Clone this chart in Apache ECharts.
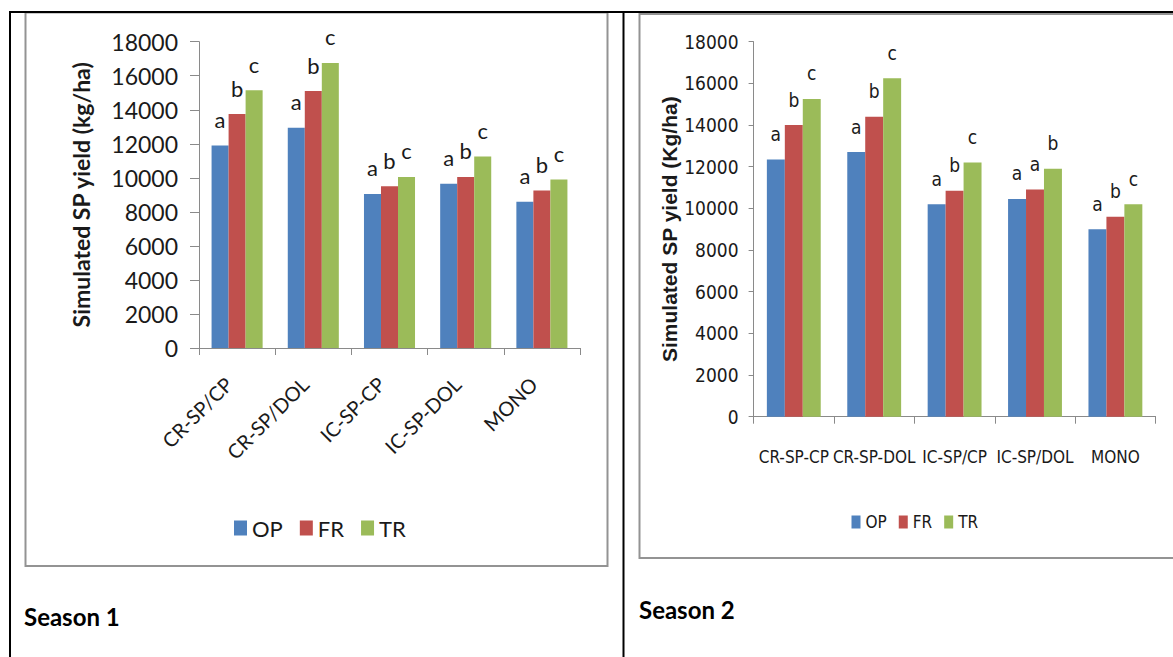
<!DOCTYPE html>
<html>
<head>
<meta charset="utf-8">
<script src="https://cdn.jsdelivr.net/npm/echarts@6/dist/echarts.min.js"></script>
<style>
  html, body { margin: 0; padding: 0; background: #fff; }
  #chart { width: 1173px; height: 657px; }
</style>
</head>
<body>
<div id="chart"></div>
<script>
// Season 1: simulated sweet potato yield (kg/ha) per cropping system
const categoriesS1 = ['CR-SP/CP', 'CR-SP/DOL', 'IC-SP-CP', 'IC-SP-DOL', 'MONO'];
const opS1 = [11900, 12950, 9050, 9650, 8600];
const frS1 = [13750, 15100, 9500, 10050, 9250];
const trS1 = [15150, 16750, 10050, 11250, 9900];
const opLettersS1 = ['a', 'a', 'a', 'a', 'a'];
const frLettersS1 = ['b', 'b', 'b', 'b', 'b'];
const trLettersS1 = ['c', 'c', 'c', 'c', 'c'];

// Season 2
const categoriesS2 = ['CR-SP-CP', 'CR-SP-DOL', 'IC-SP/CP', 'IC-SP/DOL', 'MONO'];
const opS2 = [12350, 12700, 10200, 10450, 9000];
const frS2 = [14000, 14400, 10850, 10900, 9600];
const trS2 = [15250, 16250, 12200, 11900, 10200];
const opLettersS2 = ['a', 'a', 'a', 'a', 'a'];
const frLettersS2 = ['b', 'b', 'b', 'a', 'b'];
const trLettersS2 = ['c', 'c', 'c', 'b', 'c'];

const seriesNames = ['OP', 'FR', 'TR'];
const yMin = 0, yMax = 18000, yStep = 2000;
const titleS1 = 'Simulated SP yield (kg/ha)';
const titleS2 = 'Simulated SP yield (Kg/ha)';
const panelLabels = ['Season 1', 'Season 2'];

const COLORS = ['#4F81BD', '#C0504D', '#9BBB59'];
const AXIS_GREY = '#8a8a8a';
const TEXT = '#1a1a1a';
const FONT1 = 'Lato, "Open Sans", sans-serif';
const FONT2 = '"Liberation Sans Narrow", "DejaVu Sans Condensed", "Liberation Sans", sans-serif';

function bars(name, values, letters, idx, color, font, size, dist) {
  return {
    name: name,
    type: 'bar',
    xAxisIndex: idx,
    yAxisIndex: idx,
    data: values,
    barGap: '0%',
    barCategoryGap: '33%',
    itemStyle: { color: color },
    label: {
      show: true,
      position: 'top',
      distance: dist,
      color: TEXT,
      fontFamily: font,
      fontSize: size,
      formatter: p => letters[p.dataIndex]
    },
    emphasis: { disabled: true }
  };
}

function valueAxis(idx, name, font, size, nameFont, nameSize, nameGap, labelMargin, tickLen) {
  return {
    type: 'value',
    gridIndex: idx,
    min: yMin, max: yMax, interval: yStep,
    name: name,
    nameLocation: 'middle',
    nameGap: nameGap,
    nameTextStyle: { fontFamily: nameFont, fontSize: nameSize, fontWeight: 'bold', color: TEXT },
    axisLine: { show: true, lineStyle: { color: AXIS_GREY, width: 1 } },
    axisTick: { show: true, length: tickLen, lineStyle: { color: AXIS_GREY } },
    splitLine: { show: false },
    axisLabel: {
      fontFamily: font, fontSize: size, color: TEXT, margin: labelMargin,
      formatter: v => String(v)
    }
  };
}

function categoryAxis(idx, cats, font, size, rotate, margin, padding) {
  return {
    type: 'category',
    gridIndex: idx,
    data: cats,
    axisLine: { lineStyle: { color: AXIS_GREY, width: 1 } },
    axisTick: { show: true, length: 7, lineStyle: { color: AXIS_GREY } },
    axisLabel: {
      fontFamily: font, fontSize: size, color: TEXT, rotate: rotate,
      margin: margin, interval: 0, padding: padding
    }
  };
}

const chart = echarts.init(document.getElementById('chart'), null, { renderer: 'svg' });

chart.setOption({
  backgroundColor: '#fff',
  animation: false,
  color: COLORS,
  grid: [
    { left: 199, top: 41.7, width: 381, height: 306.3 },
    { left: 753.6, top: 41.7, width: 402, height: 375 }
  ],
  xAxis: [
    // slanted labels end just left of the category centre
    categoryAxis(0, categoriesS1, FONT1, 20, 45, 24, [0, 12, 0, 0]),
    categoryAxis(1, categoriesS2, FONT2, 17, 0, 32, 0)
  ],
  yAxis: [
    valueAxis(0, titleS1, FONT1, 23, FONT1, 23, 107, 21, 9),
    valueAxis(1, titleS2, FONT2, 19, '"Liberation Sans", sans-serif', 21, 64, 15, 5)
  ],
  legend: [
    {
      data: seriesNames, left: 229, top: 512,
      icon: 'rect', itemWidth: 13, itemHeight: 15, itemGap: 17,
      textStyle: { fontFamily: FONT1, fontSize: 22, color: TEXT },
      selectedMode: false
    },
    {
      data: seriesNames, left: 846.5, top: 508.5,
      icon: 'rect', itemWidth: 9, itemHeight: 13, itemGap: 12,
      textStyle: { fontFamily: FONT2, fontSize: 17, color: TEXT },
      selectedMode: false
    }
  ],
  series: [
    bars('OP', opS1, opLettersS1, 0, COLORS[0], FONT1, 22, 15),
    bars('FR', frS1, frLettersS1, 0, COLORS[1], FONT1, 22, 15),
    bars('TR', trS1, trLettersS1, 0, COLORS[2], FONT1, 22, 15),
    bars('OP', opS2, opLettersS2, 1, COLORS[0], FONT2, 19, 16),
    bars('FR', frS2, frLettersS2, 1, COLORS[1], FONT2, 19, 16),
    bars('TR', trS2, trLettersS2, 1, COLORS[2], FONT2, 19, 16)
  ],
  graphic: [
    // chart frames
    { type: 'rect', shape: { x: 25.5, y: 12.5, width: 582, height: 553.5 },
      style: { fill: 'none', stroke: '#939393', lineWidth: 2 }, silent: true },
    { type: 'rect', shape: { x: 639.5, y: 14, width: 560, height: 544 },
      style: { fill: 'none', stroke: '#939393', lineWidth: 2 }, silent: true },
    // table rules
    { type: 'line', shape: { x1: 9, y1: 12, x2: 1173, y2: 12 },
      style: { stroke: '#000', lineWidth: 2 }, silent: true },
    { type: 'line', shape: { x1: 10, y1: 11, x2: 10, y2: 657 },
      style: { stroke: '#000', lineWidth: 2 }, silent: true },
    { type: 'line', shape: { x1: 623.5, y1: 11, x2: 623.5, y2: 657 },
      style: { stroke: '#000', lineWidth: 2 }, silent: true },
    // panel captions
    { type: 'text', left: 24, top: 604,
      style: { text: panelLabels[0], fontFamily: FONT1, fontWeight: 'bold', fontSize: 24, fill: '#000' } },
    { type: 'text', left: 639, top: 597,
      style: { text: panelLabels[1], fontFamily: FONT1, fontWeight: 'bold', fontSize: 24, fill: '#000' } }
  ]
});
</script>
</body>
</html>
